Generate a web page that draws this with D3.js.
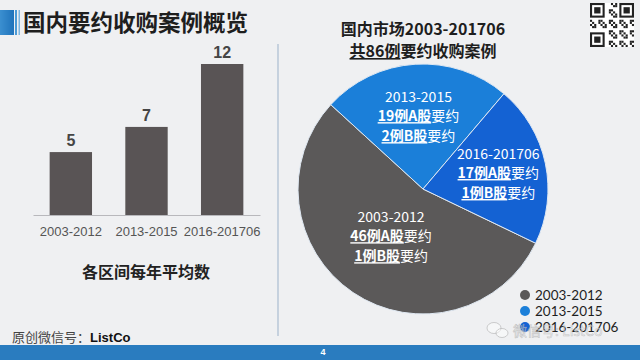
<!DOCTYPE html>
<html>
<head>
<meta charset="utf-8">
<script src="https://cdn.jsdelivr.net/npm/d3@7"></script>
<style>
  html, body { margin: 0; padding: 0; background: #eff0f2; }
  svg { display: block; }
</style>
</head>
<body>
<svg id="chart" width="640" height="360"></svg>
<script>
// ---------- data ----------
const barCategories = ["2003-2012", "2013-2015", "2016-201706"];
const barValues = [5, 7, 12];

const pieCategories = ["2003-2012", "2013-2015", "2016-201706"];
const pieACases = [46, 19, 17];
const pieBCases = [1, 2, 1];

const titleText = "国内要约收购案例概览";
const barCaption = "各区间每年平均数";
const pieTitle1 = "国内市场2003-201706";
const pieTitle2a = "共86例";
const pieTitle2b = "要约收购案例";
const footerLabel = "原创微信号：";
const footerName = "ListCo";
const pageNumber = "4";
const watermark = "微信号: ListCo";

// ---------- setup ----------
const svg = d3.select("#chart");
const W = 640, H = 360;
const CJK = "'Noto Sans CJK SC', 'Noto Sans', sans-serif";
const LAT = "'Liberation Sans', Arial, sans-serif";

svg.append("rect").attr("width", W).attr("height", H).attr("fill", "#eff0f2");

// title block
const defs = svg.append("defs");
const tg = defs.append("linearGradient").attr("id", "tg").attr("x1", 0).attr("x2", 1);
tg.append("stop").attr("offset", 0).attr("stop-color", "#3b8fd0");
tg.append("stop").attr("offset", 1).attr("stop-color", "#1f73bb");
svg.append("rect").attr("x", 0).attr("y", 10).attr("width", 14).attr("height", 25).attr("fill", "url(#tg)");
svg.append("rect").attr("x", 15).attr("y", 10).attr("width", 2).attr("height", 25).attr("fill", "#4a9ad6");
svg.append("rect").attr("x", 18.5).attr("y", 10).attr("width", 1.5).attr("height", 25).attr("fill", "#7db6e2");
svg.append("text").attr("x", 23).attr("y", 31)
  .attr("font-family", CJK).attr("font-weight", 700).attr("font-size", 22.5)
  .attr("fill", "#1e1e1e").text(titleText);

// separator
svg.append("line").attr("x1", 278).attr("x2", 278).attr("y1", 44).attr("y2", 336)
  .attr("stroke", "#a9bdd0").attr("stroke-width", 1.2);

// ---------- bar chart ----------
const x = d3.scaleBand().domain(barCategories).range([33, 260]).paddingInner(0.44).paddingOuter(0.22);
const y = d3.scaleLinear().domain([0, 12]).range([215, 64]);

const xAxis = svg.append("g").attr("transform", "translate(0,215)")
  .call(d3.axisBottom(x).tickSize(0).tickPadding(12));
xAxis.select(".domain").attr("stroke", "#b8b8bc").attr("stroke-width", 1);
xAxis.selectAll("text").attr("font-family", LAT).attr("font-size", 13).attr("fill", "#555");

svg.append("g").selectAll("rect").data(barValues).join("rect")
  .attr("x", (d, i) => x(barCategories[i]))
  .attr("width", x.bandwidth())
  .attr("y", d => y(d))
  .attr("height", d => y(0) - y(d))
  .attr("fill", "#595455");

svg.append("g").selectAll("text").data(barValues).join("text")
  .attr("x", (d, i) => x(barCategories[i]) + x.bandwidth() / 2)
  .attr("y", d => y(d) - 6)
  .attr("text-anchor", "middle")
  .attr("font-family", LAT).attr("font-weight", 700).attr("font-size", 16)
  .attr("fill", "#454545").text(d => d);

svg.append("text").attr("x", 146).attr("y", 278).attr("text-anchor", "middle")
  .attr("font-family", CJK).attr("font-weight", 700).attr("font-size", 16)
  .attr("fill", "#222").text(barCaption);

// ---------- pie ----------
const totals = pieACases.map((a, i) => a + pieBCases[i]);
const cx = 423, cy = 189, R = 125;
const colors = d3.scaleOrdinal().domain(pieCategories).range(["#5b5959", "#1b7fd9", "#1462d3"]);
const startA = 115.7 * Math.PI / 180;
const pie = d3.pie().sort(null).value(d => d).startAngle(startA).endAngle(startA + 2 * Math.PI);
const arcs = pie(totals);
const arc = d3.arc().innerRadius(0).outerRadius(R);

const pg = svg.append("g").attr("transform", `translate(${cx},${cy})`);
pg.selectAll("path").data(arcs).join("path")
  .attr("d", arc)
  .attr("fill", (d, i) => colors(pieCategories[i]))
  .attr("stroke", "#dfe8f2").attr("stroke-width", 1);

const labelRadius = [57, 73, 77];
const labels = pg.selectAll("g.lbl").data(arcs).join("g").attr("class", "lbl")
  .attr("transform", (d, i) => {
    const a = (d.startAngle + d.endAngle) / 2;
    const r = labelRadius[i];
    return `translate(${r * Math.sin(a)},${-r * Math.cos(a)})`;
  });
labels.append("text").attr("y", -14).attr("text-anchor", "middle")
  .attr("font-family", CJK).attr("font-size", 14).attr("fill", "#fff")
  .text((d, i) => pieCategories[i]);
[[pieACases, "A", 5], [pieBCases, "B", 25]].forEach(([arr, lab, dy]) => {
  const t = labels.append("text").attr("y", dy).attr("text-anchor", "middle")
    .attr("font-family", CJK).attr("font-size", 14).attr("fill", "#fff");
  t.append("tspan").attr("font-weight", 700).style("text-decoration", "underline")
    .text((d, i) => arr[i] + "例" + lab + "股");
  t.append("tspan").text("要约");
});

// pie title
svg.append("text").attr("x", 423).attr("y", 35).attr("text-anchor", "middle")
  .attr("font-family", CJK).attr("font-weight", 700).attr("font-size", 16)
  .attr("fill", "#1e1e1e").text(pieTitle1);
const t2 = svg.append("text").attr("x", 423).attr("y", 57).attr("text-anchor", "middle")
  .attr("font-family", CJK).attr("font-weight", 700).attr("font-size", 16).attr("fill", "#1e1e1e");
t2.append("tspan").style("text-decoration", "underline").text(pieTitle2a);
t2.append("tspan").text(pieTitle2b);

// legend
const lg = svg.append("g").selectAll("g").data(pieCategories).join("g")
  .attr("transform", (d, i) => `translate(525,${295 + i * 16})`);
lg.append("circle").attr("r", 5).attr("fill", d => colors(d));
lg.append("text").attr("x", 10).attr("y", 4.5)
  .attr("font-family", "Lato, 'Noto Sans', sans-serif").attr("font-size", 13.5).attr("fill", "#1e1e1e").text(d => d);

// watermark (semi-transparent overlay, as in the reference)
const wi = svg.append("g").attr("transform", "translate(498,330)")
  .attr("fill", "rgba(255,255,255,0.45)").attr("stroke", "rgba(150,150,150,0.55)").attr("stroke-width", 0.8);
wi.append("ellipse").attr("cx", -4).attr("cy", -2).attr("rx", 7).attr("ry", 5.5);
wi.append("ellipse").attr("cx", 4).attr("cy", 3).attr("rx", 6).attr("ry", 4.5);
svg.append("text").attr("x", 513).attr("y", 336)
  .attr("font-family", CJK).attr("font-size", 14)
  .attr("fill", "rgba(255,255,255,0.45)").attr("stroke", "rgba(150,150,150,0.5)").attr("stroke-width", 0.6)
  .text(watermark);

// QR-like decoration
const qr = svg.append("g").attr("transform", "translate(590,3)");
qr.append("rect").attr("width", 44).attr("height", 44).attr("fill", "#fff");
const cell = 44 / 21;
const cells = [];
for (let r = 0; r < 21; r++) for (let c = 0; c < 21; c++) {
  const inFinder = (r < 8 && c < 8) || (r < 8 && c > 12) || (r > 12 && c < 8);
  if (!inFinder && ((r * 7 + c * 13 + r * c) % 5 < 2)) cells.push([r, c]);
}
qr.selectAll("rect.c").data(cells).join("rect").attr("class", "c")
  .attr("x", d => d[1] * cell).attr("y", d => d[0] * cell)
  .attr("width", cell).attr("height", cell).attr("fill", "#222");
[[0, 0], [0, 14], [14, 0]].forEach(([r, c]) => {
  qr.append("rect").attr("x", c * cell + cell / 2).attr("y", r * cell + cell / 2)
    .attr("width", 6 * cell).attr("height", 6 * cell).attr("fill", "none").attr("stroke", "#222").attr("stroke-width", cell);
  qr.append("rect").attr("x", (c + 2) * cell).attr("y", (r + 2) * cell)
    .attr("width", 3 * cell).attr("height", 3 * cell).attr("fill", "#222");
});

// footer
const ft = svg.append("text").attr("x", 12).attr("y", 342)
  .attr("font-family", CJK).attr("font-size", 13).attr("fill", "#444");
ft.append("tspan").text(footerLabel);
ft.append("tspan").attr("font-family", LAT).attr("font-weight", 700).attr("fill", "#111").text(footerName);

svg.append("rect").attr("x", 0).attr("y", 345).attr("width", W).attr("height", 15).attr("fill", "#2a7cbf");
svg.append("text").attr("x", 323).attr("y", 355).attr("text-anchor", "middle")
  .attr("font-family", LAT).attr("font-weight", 700).attr("font-size", 9).attr("fill", "#fff").text(pageNumber);
</script>
</body>
</html>
